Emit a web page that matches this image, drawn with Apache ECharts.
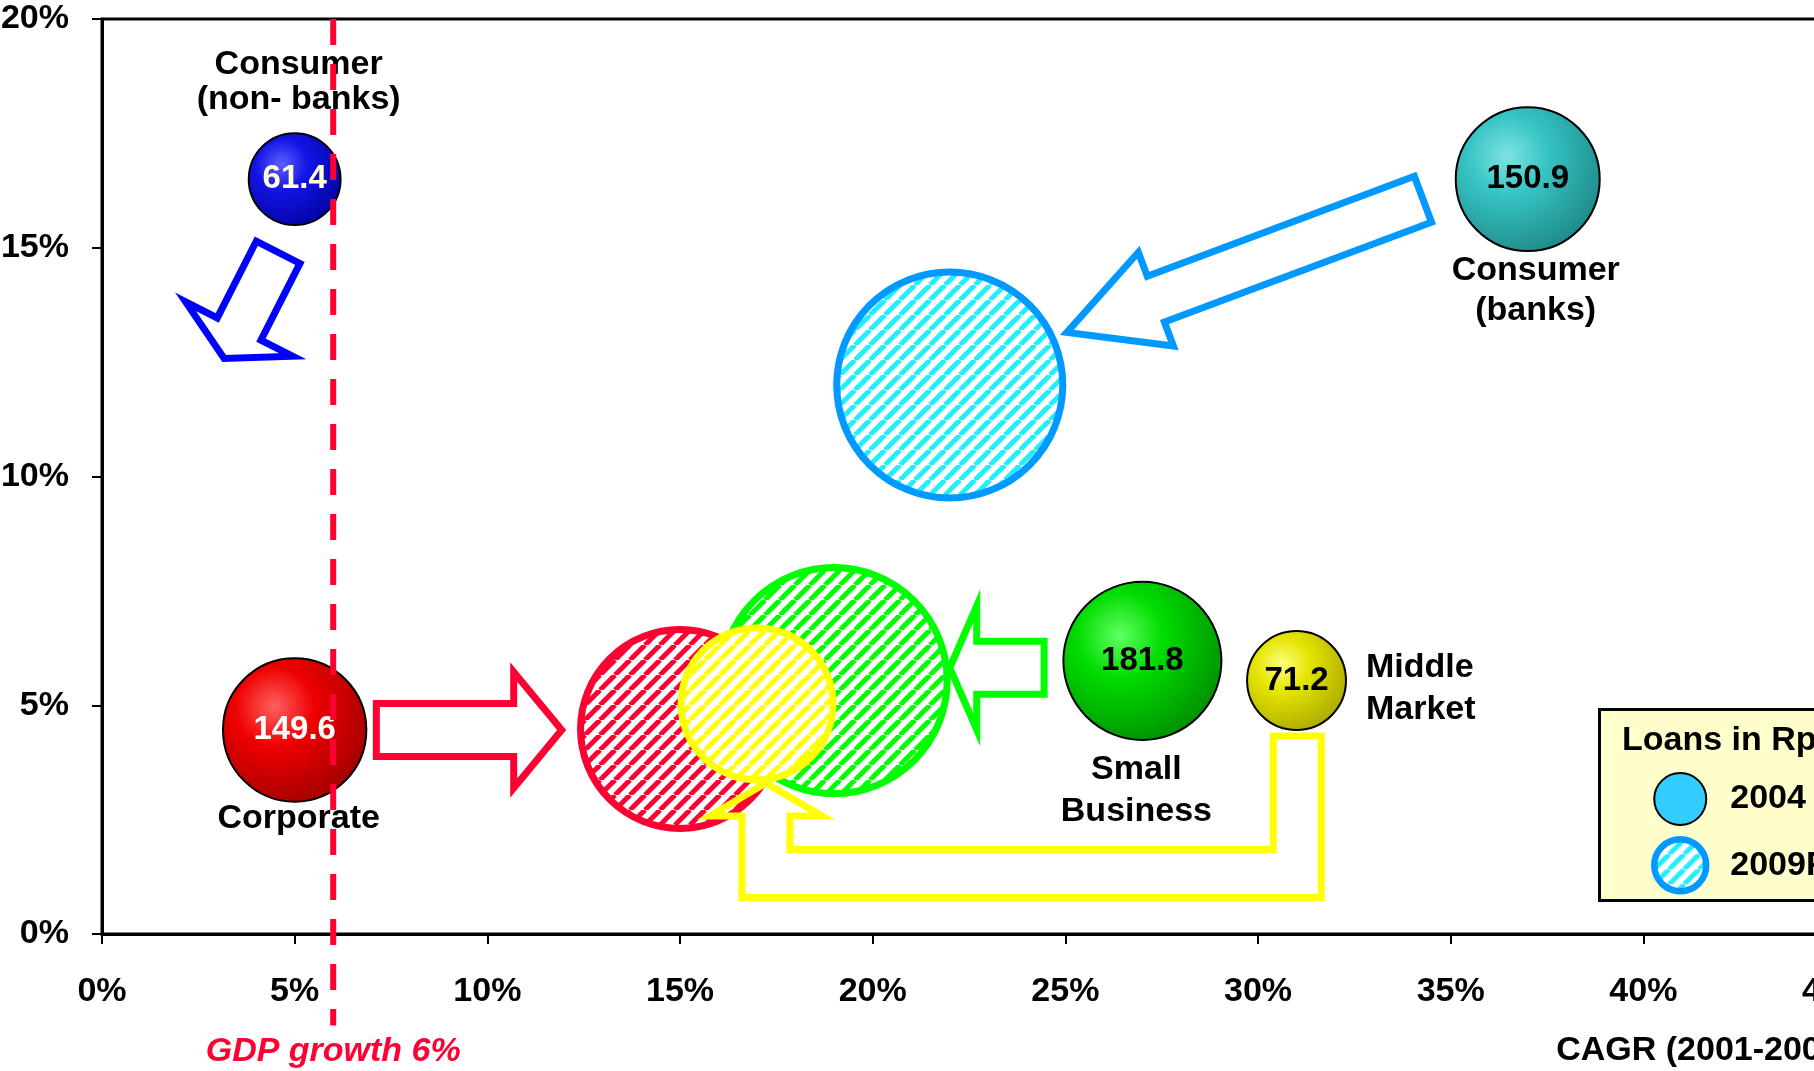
<!DOCTYPE html>
<html>
<head>
<meta charset="utf-8">
<script src="https://cdn.jsdelivr.net/npm/echarts@6/dist/echarts.min.js"></script>
<style>
  html, body { margin: 0; padding: 0; background: #ffffff; }
  #chart { width: 1814px; height: 1071px; }
</style>
</head>
<body>
<div id="chart"></div>
<script>
// ---- Data ----------------------------------------------------------------
const segments    = ['Consumer\n(non- banks)', 'Consumer\n(banks)', 'Corporate', 'Small\nBusiness', 'Middle\nMarket'];
const cagr2004    = [5, 37, 5, 27, 31];            // CAGR 2001-2004, %
const growth2004  = [16.5, 16.5, 4.46, 5.97, 5.54]; // growth, %
const loans2004   = [61.4, 150.9, 149.6, 181.8, 71.2]; // Rp trillion
const cagr2009F   = [null, 22, 15, 19, 17];
const growth2009F = [null, 12.0, 4.48, 5.54, 5.03];
const loans2009F  = [null, 372, 288, 372, 168];
const gdpGrowth   = 6;
const xAxisMin = 0, xAxisMax = 45, xAxisStep = 5;
const yAxisMin = 0, yAxisMax = 20, yAxisStep = 5;

// Shift arrows, in axis units (CAGR %, growth %): tail ... tip
const arrowRoutes = [
  [[4.57, 14.9], [3.17, 12.58]],                            // Consumer (non-banks)
  [[7.12, 4.46], [11.93, 4.46]],                            // Corporate
  [[34.28, 16.06], [25.04, 13.15]],                         // Consumer (banks)
  [[24.45, 5.82], [22.0, 5.82]],                            // Small Business
  [[31.02, 4.33], [31.02, 1.32], [17.23, 1.32], [17.23, 3.3]] // Middle Market
];

// ---- Styles --------------------------------------------------------------
const FONT = '"Liberation Sans", Arial, Helvetica, sans-serif';
const RED = '#ff0033';
const sphereStops = [
  ['#5e5eff', '#1414e6', '#00009a'],
  ['#80e2e2', '#36c4c4', '#1c8080'],
  ['#ff6060', '#ee0000', '#960000'],
  ['#60ff60', '#00dc00', '#008400'],
  ['#ffff80', '#e4e400', '#a2a200']
];
const valueLabelColors = ['#ffffd8', '#000000', '#ffffff', '#000000', '#000000'];
const ringColors   = [null, '#0099ff', RED, '#00ff00', '#ffff00'];
const stripeColors = [null, '#22eeff', RED, '#00ff00', '#ffff00'];
const arrowColors  = ['#0000ff', RED, '#0099ff', '#00ff00', '#ffff00'];
const arrowShaft   = [24.5, 26.5, 24.5, 26.5, 24];
const arrowHeadW   = [60, 58, 50, 62, 56];
const arrowHeadL   = [33, 48, 95, 27, 33];
const nameLabelLayout = [
  { position: 'top', distance: 16, lineHeight: 35, offset: [4, 0] },
  { position: 'bottom', distance: 0, lineHeight: 40, offset: [8, 0] },
  { position: 'bottom', distance: -1, lineHeight: 36, offset: [4, 0] },
  { position: 'bottom', distance: 9, lineHeight: 42, offset: [-6, 0] },
  { position: 'right', distance: 20, lineHeight: 42, offset: [0, 8], align: 'left' }
];

const sizeOf = (v) => 11.72 * Math.sqrt(v);

const hatchCache = {};
function hatch(color) {
  if (hatchCache[color]) return hatchCache[color];
  const s = 15;
  const c = document.createElement('canvas');
  c.width = s; c.height = s;
  const g = c.getContext('2d');
  g.fillStyle = '#ffffff';
  g.fillRect(0, 0, s, s);
  g.strokeStyle = color;
  g.lineWidth = 5;
  for (let k = -1; k <= 1; k++) {
    g.beginPath();
    g.moveTo(k * s, s);
    g.lineTo(k * s + s, 0);
    g.stroke();
  }
  hatchCache[color] = { image: c, repeat: 'repeat' };
  return hatchCache[color];
}

function sphere(stops) {
  return {
    type: 'radial', x: 0.36, y: 0.34, r: 0.78,
    colorStops: [
      { offset: 0, color: stops[0] },
      { offset: 0.35, color: stops[1] },
      { offset: 1, color: stops[2] }
    ]
  };
}

// Outline of a block arrow following a polyline (pixel points)
function arrowOutline(pts, sw, hw, hl) {
  const n = pts.length;
  const tip = pts[n - 1], prev = pts[n - 2];
  const L = Math.hypot(tip[0] - prev[0], tip[1] - prev[1]);
  const ux = (tip[0] - prev[0]) / L, uy = (tip[1] - prev[1]) / L;
  const base = [tip[0] - ux * hl, tip[1] - uy * hl];
  const line = pts.slice(0, n - 1).concat([base]);
  const normals = [];
  for (let k = 0; k < line.length - 1; k++) {
    const a = line[k], b = line[k + 1];
    const l = Math.hypot(b[0] - a[0], b[1] - a[1]);
    normals.push([-(b[1] - a[1]) / l, (b[0] - a[0]) / l]);
  }
  const left = [], right = [];
  for (let k = 0; k < line.length; k++) {
    let nx, ny;
    if (k === 0) { nx = normals[0][0]; ny = normals[0][1]; }
    else if (k === line.length - 1) { nx = normals[k - 1][0]; ny = normals[k - 1][1]; }
    else {
      const a = normals[k - 1], b = normals[k];
      const d = 1 + a[0] * b[0] + a[1] * b[1];
      nx = (a[0] + b[0]) / d; ny = (a[1] + b[1]) / d;
    }
    left.push([line[k][0] + nx * sw, line[k][1] + ny * sw]);
    right.push([line[k][0] - nx * sw, line[k][1] - ny * sw]);
  }
  const nl = normals[normals.length - 1];
  const head = [
    [base[0] + nl[0] * hw, base[1] + nl[1] * hw],
    tip,
    [base[0] - nl[0] * hw, base[1] - nl[1] * hw]
  ];
  return left.concat(head, right.reverse());
}

// ---- Series data ----------------------------------------------------------
const data2004 = segments.map((name, i) => ({
  name: name,
  value: [cagr2004[i], growth2004[i], loans2004[i]],
  itemStyle: { color: sphere(sphereStops[i]) },
  label: { color: valueLabelColors[i] }
}));

const data2009F = [];
const idx2009F = [];
segments.forEach((name, i) => {
  if (loans2009F[i] == null) return;
  idx2009F.push(i);
  data2009F.push({ name: name, value: [cagr2009F[i], growth2009F[i], loans2009F[i]] });
});

const nameData = segments.map((name, i) => ({
  name: name,
  value: [cagr2004[i], growth2004[i], loans2004[i]],
  label: Object.assign({ show: true, formatter: name }, nameLabelLayout[i])
}));

const chart = echarts.init(document.getElementById('chart'), null, { renderer: 'canvas' });

chart.setOption({
  animation: false,
  backgroundColor: '#ffffff',
  textStyle: { fontFamily: FONT },
  grid: {
    left: 102, top: 19, width: 1734, height: 915,
    show: true, borderColor: '#000000', borderWidth: 3,
    backgroundColor: 'transparent',
    containLabel: false, outerBoundsMode: 'none'
  },
  xAxis: {
    type: 'value', min: xAxisMin, max: xAxisMax, interval: xAxisStep,
    name: 'CAGR (2001-2004)',
    nameLocation: 'end', nameGap: 15,
    nameTextStyle: {
      fontFamily: FONT, fontSize: 34, fontWeight: 'bold', color: '#000',
      align: 'right', verticalAlign: 'top', padding: [100, 0, 0, 0]
    },
    axisLine: { show: true, lineStyle: { color: '#000', width: 3 } },
    axisTick: { show: true, inside: false, length: 10, lineStyle: { color: '#000', width: 2 } },
    axisLabel: {
      formatter: '{value}%', margin: 41,
      fontFamily: FONT, fontSize: 34, fontWeight: 'bold', color: '#000'
    },
    splitLine: { show: false }
  },
  yAxis: {
    type: 'value', min: yAxisMin, max: yAxisMax, interval: yAxisStep,
    axisLine: { show: true, lineStyle: { color: '#000', width: 3 } },
    axisTick: { show: true, inside: false, length: 10, lineStyle: { color: '#000', width: 2 } },
    axisLabel: {
      formatter: '{value}%', margin: 33,
      fontFamily: FONT, fontSize: 34, fontWeight: 'bold', color: '#000'
    },
    splitLine: { show: false }
  },
  legend: {
    data: [
      { name: '2004', icon: 'circle',
        itemStyle: { color: '#33ccff', borderColor: '#000000', borderWidth: 2 } },
      { name: '2009F', icon: 'circle',
        itemStyle: { color: hatch('#22eeff'), borderColor: '#0099ff', borderWidth: 6.5 } }
    ],
    orient: 'vertical',
    left: 1651, top: 772,
    itemWidth: 52, itemHeight: 52, itemGap: 10,
    padding: 0,
    selectedMode: false,
    textStyle: {
      fontFamily: FONT, fontSize: 34, fontWeight: 'bold', color: '#000',
      padding: [0, 0, 0, 19]
    },
    z: 10
  },
  graphic: [
    {
      type: 'rect', left: 1598, top: 708, z: 8,
      shape: { width: 320, height: 191 },
      style: { fill: '#ffffcc', stroke: '#000000', lineWidth: 3 }
    },
    {
      type: 'text', left: 1622, top: 724, z: 9,
      style: {
        text: 'Loans in Rp trillion', fill: '#000',
        font: 'bold 34px ' + FONT
      }
    }
  ],
  series: [
    {
      name: '2009F', type: 'custom', z: 2,
      coordinateSystem: 'cartesian2d',
      silent: true,
      data: data2009F,
      renderItem: (params, api) => {
        const i = idx2009F[params.dataIndex];
        const c = api.coord([api.value(0), api.value(1)]);
        return {
          type: 'circle',
          shape: { cx: c[0], cy: c[1], r: sizeOf(api.value(2)) / 2 },
          style: { fill: hatch(stripeColors[i]), stroke: ringColors[i], lineWidth: 7 }
        };
      }
    },
    {
      name: 'shift', type: 'custom', z: 3,
      coordinateSystem: 'cartesian2d',
      silent: true, clip: false,
      data: arrowRoutes.map((r) => r[0]),
      renderItem: (params, api) => {
        const i = params.dataIndex;
        const px = arrowRoutes[i].map((p) => api.coord(p));
        return {
          type: 'polygon',
          shape: { points: arrowOutline(px, arrowShaft[i], arrowHeadW[i], arrowHeadL[i]) },
          style: { fill: 'none', stroke: arrowColors[i], lineWidth: 7, lineJoin: 'miter', miterLimit: 10 }
        };
      }
    },
    {
      name: '2004', type: 'scatter', z: 4,
      symbol: 'circle',
      symbolSize: (v) => sizeOf(v[2]),
      itemStyle: { borderColor: '#000000', borderWidth: 2, opacity: 1 },
      label: {
        show: true, position: 'inside',
        formatter: (p) => p.value[2].toFixed(1),
        fontFamily: FONT, fontSize: 33, fontWeight: 'bold'
      },
      emphasis: { disabled: true },
      data: data2004
    },
    {
      name: 'segment', type: 'scatter', z: 5,
      symbol: 'circle',
      symbolSize: (v) => sizeOf(v[2]),
      itemStyle: { color: 'rgba(0,0,0,0)', opacity: 1 },
      silent: true,
      label: {
        fontFamily: FONT, fontSize: 34, fontWeight: 'bold', color: '#000', align: 'center'
      },
      emphasis: { disabled: true },
      data: nameData
    },
    {
      name: 'GDP', type: 'line', z: 7,
      clip: false, silent: true,
      symbol: 'none',
      lineStyle: { color: RED, width: 6, type: [26, 19] },
      data: [[gdpGrowth, yAxisMax], [gdpGrowth, -2]]
    },
    {
      name: 'GDP label', type: 'scatter', z: 7,
      clip: false, silent: true,
      symbolSize: 0,
      itemStyle: { opacity: 1 },
      label: {
        show: true, position: 'bottom', distance: 9,
        formatter: 'GDP growth ' + gdpGrowth + '%',
        fontFamily: FONT, fontSize: 34, fontWeight: 'bold', fontStyle: 'italic', color: RED
      },
      data: [[gdpGrowth, -2]]
    }
  ]
});
</script>
</body>
</html>
